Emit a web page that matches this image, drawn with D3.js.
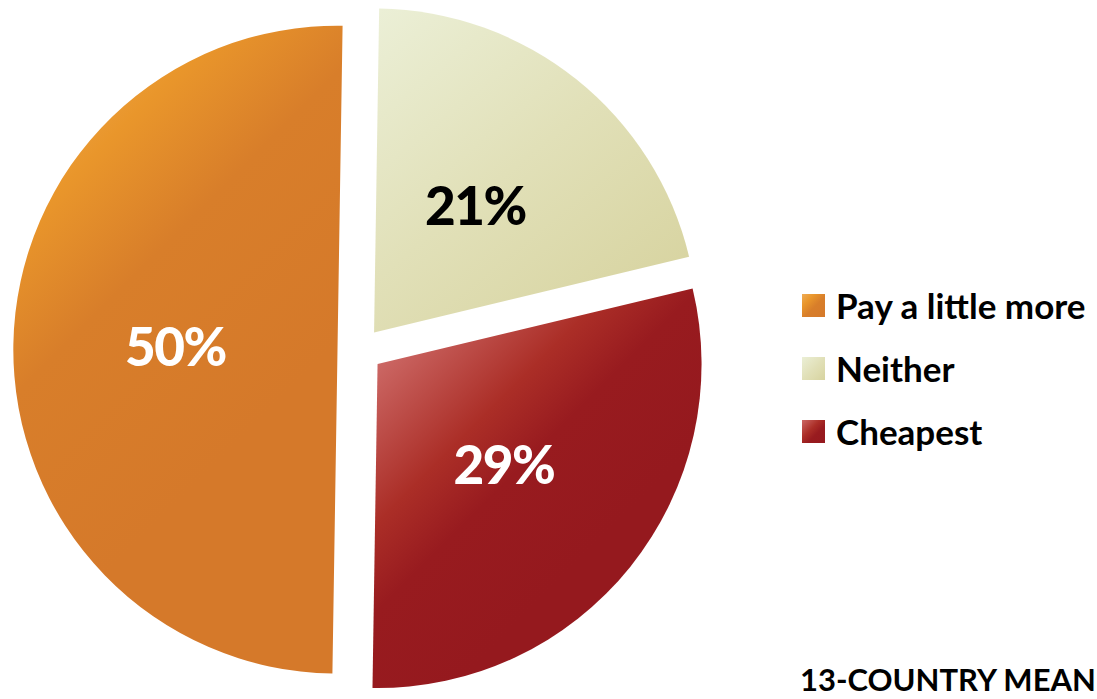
<!DOCTYPE html>
<html>
<head>
<meta charset="utf-8">
<script src="https://cdn.jsdelivr.net/npm/d3@7"></script>
<style>
  html, body { margin: 0; padding: 0; background: #ffffff; }
  svg { display: block; }
</style>
</head>
<body>
<svg id="chart" width="1097" height="699"></svg>
<script>
// ---- data ----
const categories = ["Neither", "Cheapest", "Pay a little more"];
const values = [21, 29, 50];
const labels = ["21%", "29%", "50%"];
const legendOrder = ["Pay a little more", "Neither", "Cheapest"];
const title = "13-COUNTRY MEAN";

// ---- layout ----
const W = 1097, H = 699;
const cx = 360, cy = 350, R = 324, explode = 22.5, labelR = 162;
const rot = 0.9 * Math.PI / 180;

const svg = d3.select("#chart");
const defs = svg.append("defs");

const palette = {
  "Pay a little more": { grad: [[0, "#efac58"], [0.28, "#e9962b"], [0.55, "#d87e2a"], [1, "#d5792a"]], text: "#ffffff",
                         g: { x1: 40, y1: 40, x2: 340, y2: 340 } },
  "Neither": { grad: [[0, "#ebefd6"], [0.5, "#e1e0b8"], [1, "#d7d39f"]], text: "#000000",
               g: { x1: 380, y1: 10, x2: 640, y2: 330 } },
  "Cheapest": { grad: [[0, "#cc6865"], [0.4, "#ab2e27"], [0.62, "#981b1f"], [1, "#95191e"]], text: "#ffffff",
                g: { x1: 380, y1: 360, x2: 580, y2: 560 } }
};

const key = d => d.replace(/\s+/g, "_");

Object.entries(palette).forEach(([name, p]) => {
  const lg = defs.append("linearGradient")
    .attr("id", "g_" + key(name))
    .attr("gradientUnits", "userSpaceOnUse")
    .attr("x1", p.g.x1).attr("y1", p.g.y1).attr("x2", p.g.x2).attr("y2", p.g.y2);
  p.grad.forEach(s => lg.append("stop").attr("offset", s[0]).attr("stop-color", s[1]));
  const lg2 = defs.append("linearGradient")
    .attr("id", "l_" + key(name))
    .attr("x1", 0).attr("y1", 0).attr("x2", 1).attr("y2", 1);
  p.grad.forEach(s => lg2.append("stop").attr("offset", s[0]).attr("stop-color", s[1]));
});

const data = categories.map((c, i) => ({ cat: c, value: values[i], label: labels[i] }));

const pie = d3.pie().sort(null).value(d => d.value)
  .startAngle(rot).endAngle(2 * Math.PI + rot);
const arcs = pie(data);

const arc = d3.arc().innerRadius(0).outerRadius(R);
const labelArc = d3.arc().innerRadius(labelR).outerRadius(labelR);

const g = svg.append("g").attr("transform", `translate(${cx},${cy})`);

const slice = g.selectAll("g.slice").data(arcs).join("g")
  .attr("class", "slice")
  .attr("transform", d => {
    const m = (d.startAngle + d.endAngle) / 2;
    return `translate(${explode * Math.sin(m)},${-explode * Math.cos(m)})`;
  });

slice.append("path")
  .attr("d", arc)
  .attr("fill", d => `url(#g_${key(d.data.cat)})`);

// gradients are in page coordinates; shift them by the group's offset
arcs.forEach(d => {
  const m = (d.startAngle + d.endAngle) / 2;
  const dx = cx + explode * Math.sin(m), dy = cy - explode * Math.cos(m);
  defs.select("#g_" + key(d.data.cat)).attr("gradientTransform", `translate(${-dx},${-dy})`);
});

slice.append("text")
  .attr("transform", d => `translate(${labelArc.centroid(d)})`)
  .attr("text-anchor", "middle")
  .attr("dy", "0.36em")
  .attr("font-family", "Lato, 'Open Sans', sans-serif")
  .attr("font-weight", 900)
  .attr("font-size", 53)
  .attr("letter-spacing", -1.5)
  .attr("fill", d => palette[d.data.cat].text)
  .text(d => d.data.label);

// ---- legend ----
const legend = svg.append("g").attr("transform", "translate(802,294)");
const li = legend.selectAll("g").data(legendOrder).join("g")
  .attr("transform", (d, i) => `translate(0,${i * 63})`);
li.append("rect").attr("width", 23).attr("height", 23)
  .attr("fill", d => `url(#l_${key(d)})`);
li.append("text")
  .attr("x", 34).attr("y", 24.5)
  .attr("font-family", "Lato, 'Open Sans', sans-serif")
  .attr("font-weight", 700)
  .attr("font-size", 35)
  .attr("fill", "#000")
  .text(d => d);

svg.append("text")
  .attr("x", 800).attr("y", 691)
  .attr("font-family", "Lato, 'Open Sans', sans-serif")
  .attr("font-weight", 700)
  .attr("font-size", 31)
  .attr("fill", "#000")
  .text(title);
</script>
</body>
</html>
